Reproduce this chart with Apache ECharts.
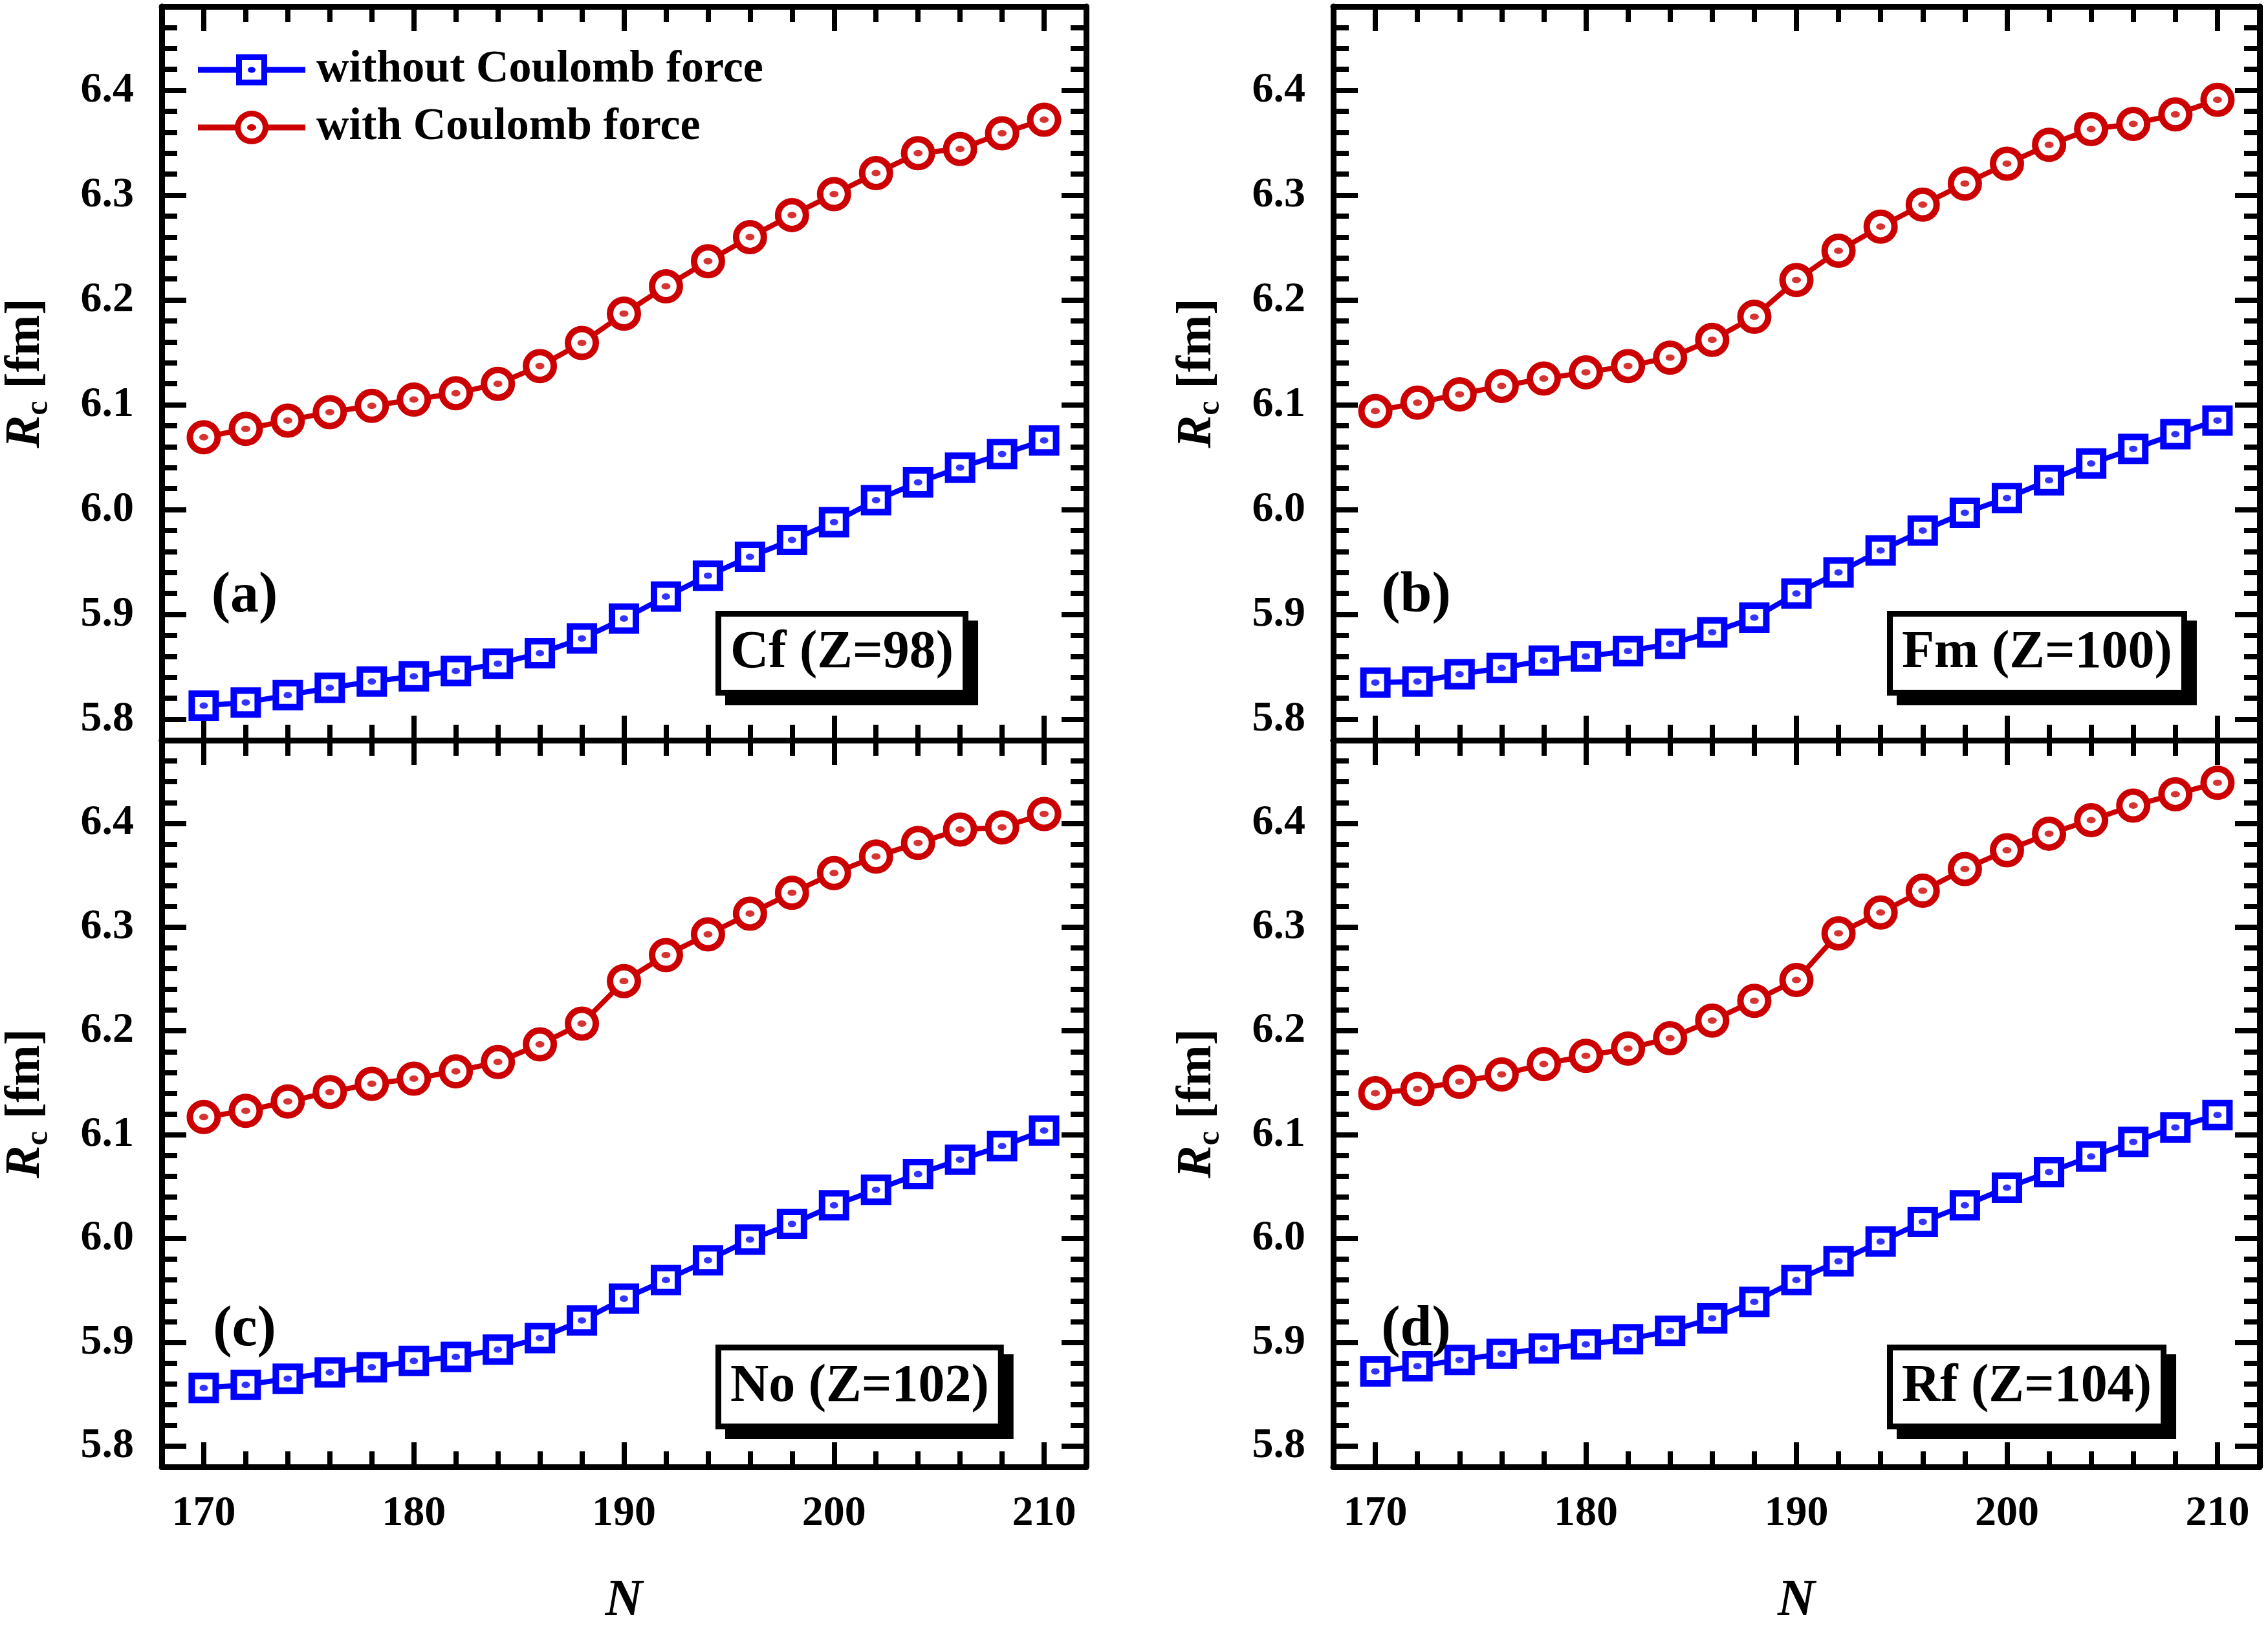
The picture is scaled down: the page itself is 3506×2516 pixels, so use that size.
<!DOCTYPE html>
<html>
<head>
<meta charset="UTF-8">
<title>Rc vs N</title>
<script src="https://cdn.jsdelivr.net/npm/echarts@6/dist/echarts.min.js"></script>
<style>
  html, body { margin: 0; padding: 0; background: #fff; }
  #chart { width: 3506px; height: 2516px; }
</style>
</head>
<body>
<div id="chart"></div>
<script>
// neutron numbers on the x axis
var neutronN = [170, 172, 174, 176, 178, 180, 182, 184, 186, 188, 190,
                192, 194, 196, 198, 200, 202, 204, 206, 208, 210];

// charge radius R_c [fm]
var cfWithout = [5.813, 5.816, 5.823, 5.830, 5.836, 5.841, 5.846, 5.853, 5.863, 5.877, 5.896,
                 5.917, 5.937, 5.955, 5.971, 5.988, 6.009, 6.026, 6.040, 6.053, 6.066];
var cfWith    = [6.069, 6.077, 6.085, 6.093, 6.099, 6.105, 6.111, 6.120, 6.137, 6.159, 6.187,
                 6.213, 6.237, 6.260, 6.281, 6.301, 6.321, 6.340, 6.344, 6.359, 6.372];
var fmWithout = [5.835, 5.836, 5.843, 5.849, 5.856, 5.860, 5.865, 5.872, 5.883, 5.897, 5.920,
                 5.940, 5.961, 5.980, 5.997, 6.011, 6.028, 6.044, 6.058, 6.072, 6.085];
var fmWith    = [6.094, 6.102, 6.110, 6.118, 6.125, 6.131, 6.137, 6.145, 6.162, 6.184, 6.219,
                 6.247, 6.270, 6.291, 6.311, 6.330, 6.348, 6.363, 6.368, 6.377, 6.391];
var noWithout = [5.856, 5.859, 5.865, 5.871, 5.876, 5.882, 5.886, 5.893, 5.904, 5.921, 5.942,
                 5.960, 5.979, 5.999, 6.014, 6.032, 6.047, 6.062, 6.076, 6.089, 6.104];
var noWith    = [6.117, 6.123, 6.132, 6.141, 6.149, 6.154, 6.161, 6.170, 6.187, 6.207, 6.248,
                 6.273, 6.293, 6.313, 6.333, 6.352, 6.368, 6.381, 6.394, 6.396, 6.409];
var rfWithout = [5.872, 5.877, 5.883, 5.889, 5.894, 5.898, 5.903, 5.911, 5.923, 5.939, 5.960,
                 5.978, 5.997, 6.016, 6.032, 6.049, 6.064, 6.079, 6.093, 6.107, 6.119];
var rfWith    = [6.140, 6.144, 6.151, 6.158, 6.168, 6.176, 6.183, 6.193, 6.210, 6.229, 6.249,
                 6.294, 6.314, 6.335, 6.356, 6.374, 6.390, 6.403, 6.417, 6.428, 6.439];

var panelWithout = [cfWithout, fmWithout, noWithout, rfWithout];
var panelWith = [cfWith, fmWith, noWith, rfWith];
var panelLetters = ['(a)', '(b)', '(c)', '(d)'];
var panelNuclei = ['Cf (Z=98)', 'Fm (Z=100)', 'No (Z=102)', 'Rf (Z=104)'];
var seriesNames = ['without Coulomb force', 'with Coulomb force'];

var xMajorTicks = [170, 180, 190, 200, 210];
var yMajorTicks = [5.8, 5.9, 6.0, 6.1, 6.2, 6.3, 6.4];

var BLUE = '#0000ff';
var RED = '#cc0000';
var FONT = 'Liberation Serif';

// panel boxes in pixels
var grids = [
  { left: 250,  top: 10,   width: 1429, height: 1134 },
  { left: 2061, top: 10,   width: 1432, height: 1134 },
  { left: 250,  top: 1144, width: 1429, height: 1133 },
  { left: 2061, top: 1144, width: 1432, height: 1133 }
];

// legend icons: line + marker + centre dot
var squareIcon = 'path://M0,19.5H59V28.5H0Z M59,0H107V48H59Z M68,9V39H98V9Z M107,19.5H166V28.5H107Z ' +
                 'M77,24A6,4.5,0,1,0,89,24A6,4.5,0,1,0,77,24Z';
var circleIcon = 'path://M0,21.5H61V30.5H0Z M57,26A26,26,0,1,1,109,26A26,26,0,1,1,57,26Z ' +
                 'M66,26A17,17,0,1,0,100,26A17,17,0,1,0,66,26Z M105,21.5H166V30.5H105Z ' +
                 'M76,26A7,5,0,1,0,90,26A7,5,0,1,0,76,26Z';

var chart = echarts.init(document.getElementById('chart'));

var xAxes = [], yAxes = [], series = [], graphics = [];
var frame = { show: true, onZero: false, lineStyle: { color: '#000', width: 9 } };
var noLine = { show: false, onZero: false };

for (var g = 0; g < 4; g++) {
  var bottomRow = g >= 2;
  // x axes: bottom major, bottom minor, top major, top minor
  xAxes.push({
    type: 'value', gridIndex: g, min: 168, max: 212, position: 'bottom',
    axisLine: frame,
    axisTick: { show: true, inside: true, length: 38, customValues: xMajorTicks, lineStyle: { color: '#000', width: 8 } },
    axisLabel: {
      show: bottomRow, customValues: xMajorTicks, margin: 40,
      color: '#000', fontFamily: FONT, fontWeight: 'bold', fontSize: 66
    },
    splitLine: { show: false },
    name: bottomRow ? 'N' : '', nameLocation: 'middle', nameGap: 168,
    nameTextStyle: { color: '#000', fontFamily: FONT, fontStyle: 'italic', fontWeight: 'bold', fontSize: 80 }
  });
  xAxes.push({
    type: 'value', gridIndex: g, min: 168, max: 212, interval: 2, position: 'bottom',
    axisLine: noLine, axisLabel: { show: false }, splitLine: { show: false },
    axisTick: { show: true, inside: true, length: 24, lineStyle: { color: '#000', width: 8 } }
  });
  xAxes.push({
    type: 'value', gridIndex: g, min: 168, max: 212, position: 'top',
    axisLine: frame, axisLabel: { show: false }, splitLine: { show: false },
    axisTick: { show: true, inside: true, length: 38, customValues: xMajorTicks, lineStyle: { color: '#000', width: 8 } }
  });
  xAxes.push({
    type: 'value', gridIndex: g, min: 168, max: 212, interval: 2, position: 'top',
    axisLine: noLine, axisLabel: { show: false }, splitLine: { show: false },
    axisTick: { show: true, inside: true, length: 24, lineStyle: { color: '#000', width: 8 } }
  });

  // y axes: left major, left minor, right major, right minor
  yAxes.push({
    type: 'value', gridIndex: g, min: 5.78, max: 6.48, position: 'left',
    axisLine: frame,
    axisTick: { show: true, inside: true, length: 38, customValues: yMajorTicks, lineStyle: { color: '#000', width: 8 } },
    axisLabel: {
      customValues: yMajorTicks, margin: 43,
      formatter: function (v) { return v.toFixed(1); },
      color: '#000', fontFamily: FONT, fontWeight: 'bold', fontSize: 66
    },
    splitLine: { show: false },
    name: '{i|R}{s|c}{n| [fm]}', nameLocation: 'middle', nameGap: 165,
    nameTextStyle: {
      color: '#000',
      rich: {
        i: { fontFamily: FONT, fontStyle: 'italic', fontWeight: 'bold', fontSize: 76, lineHeight: 90, color: '#000' },
        s: { fontFamily: FONT, fontWeight: 'bold', fontSize: 50, lineHeight: 90, verticalAlign: 'bottom', color: '#000' },
        n: { fontFamily: FONT, fontWeight: 'bold', fontSize: 76, lineHeight: 90, color: '#000' }
      }
    }
  });
  yAxes.push({
    type: 'value', gridIndex: g, min: 5.78, max: 6.48, interval: 0.02, position: 'left',
    axisLine: noLine, axisLabel: { show: false }, splitLine: { show: false },
    axisTick: { show: true, inside: true, length: 24, lineStyle: { color: '#000', width: 8 } }
  });
  yAxes.push({
    type: 'value', gridIndex: g, min: 5.78, max: 6.48, position: 'right',
    axisLine: frame, axisLabel: { show: false }, splitLine: { show: false },
    axisTick: { show: true, inside: true, length: 38, customValues: yMajorTicks, lineStyle: { color: '#000', width: 8 } }
  });
  yAxes.push({
    type: 'value', gridIndex: g, min: 5.78, max: 6.48, interval: 0.02, position: 'right',
    axisLine: noLine, axisLabel: { show: false }, splitLine: { show: false },
    axisTick: { show: true, inside: true, length: 24, lineStyle: { color: '#000', width: 8 } }
  });

  var pairsWithout = neutronN.map(function (n, i) { return [n, panelWithout[g][i]]; });
  var pairsWith = neutronN.map(function (n, i) { return [n, panelWith[g][i]]; });

  series.push({
    name: seriesNames[0], type: 'line', xAxisIndex: 4 * g, yAxisIndex: 4 * g,
    data: pairsWithout, symbol: 'rect', symbolSize: 37, showAllSymbol: true,
    lineStyle: { color: BLUE, width: 8 },
    itemStyle: { color: '#fff', borderColor: BLUE, borderWidth: 10 },
    z: 2
  });
  series.push({
    name: 'dot-' + g + '-a', type: 'scatter', xAxisIndex: 4 * g, yAxisIndex: 4 * g,
    data: pairsWithout, symbol: 'circle', symbolSize: [13, 10],
    itemStyle: { color: BLUE }, z: 4, silent: true
  });
  series.push({
    name: seriesNames[1], type: 'line', xAxisIndex: 4 * g, yAxisIndex: 4 * g,
    data: pairsWith, symbol: 'circle', symbolSize: 43, showAllSymbol: true,
    lineStyle: { color: RED, width: 8 },
    itemStyle: { color: '#fff', borderColor: RED, borderWidth: 10 },
    z: 2
  });
  series.push({
    name: 'dot-' + g + '-b', type: 'scatter', xAxisIndex: 4 * g, yAxisIndex: 4 * g,
    data: pairsWith, symbol: 'circle', symbolSize: [14, 10],
    itemStyle: { color: RED }, z: 4, silent: true
  });

  var box = grids[g];
  // panel letter
  graphics.push({
    type: 'text', x: box.left + 128, y: box.top + 912, z: 10,
    style: {
      text: panelLetters[g], fill: '#000', fontFamily: FONT, fontWeight: 'bold', fontSize: 88,
      align: 'center', verticalAlign: 'middle', textAlign: 'center', textVerticalAlign: 'middle'
    }
  });
  // nucleus label box with offset shadow
  var boxStyle = {
    text: panelNuclei[g], fontFamily: FONT, fontWeight: 'bold', fontSize: 82, lineHeight: 84,
    padding: [15, 14, 14, 14], borderColor: '#000', borderWidth: 9,
    align: 'left', verticalAlign: 'top', textAlign: 'left', textVerticalAlign: 'top'
  };
  graphics.push({
    type: 'text', x: box.left + 865 + 15, y: box.top + 943 + 15, z: 10,
    style: echarts.util.extend(echarts.util.clone(boxStyle), { fill: '#000', backgroundColor: '#000' })
  });
  graphics.push({
    type: 'text', x: box.left + 865, y: box.top + 943, z: 11,
    style: echarts.util.extend(echarts.util.clone(boxStyle), { fill: '#000', backgroundColor: '#fff' })
  });
}

var legendText = { color: '#000', fontFamily: FONT, fontWeight: 'bold', fontSize: 70, lineHeight: 70 };

var option = {
  animation: false,
  backgroundColor: '#fff',
  textStyle: { fontFamily: FONT },
  grid: grids.map(function (b) {
    return { left: b.left, top: b.top, width: b.width, height: b.height, containLabel: false };
  }),
  legend: [
    {
      data: [{ name: seriesNames[0], icon: squareIcon, itemStyle: { color: BLUE, borderWidth: 0 } }],
      left: 306, top: 73, padding: 0, itemWidth: 190, itemHeight: 48,
      selectedMode: false, textStyle: legendText
    },
    {
      data: [{ name: seriesNames[1], icon: circleIcon, itemStyle: { color: RED, borderWidth: 0 } }],
      left: 306, top: 162, padding: 0, itemWidth: 190, itemHeight: 52,
      selectedMode: false, textStyle: legendText
    }
  ],
  xAxis: xAxes,
  yAxis: yAxes,
  series: series,
  graphic: graphics
};

chart.setOption(option);
</script>
</body>
</html>
